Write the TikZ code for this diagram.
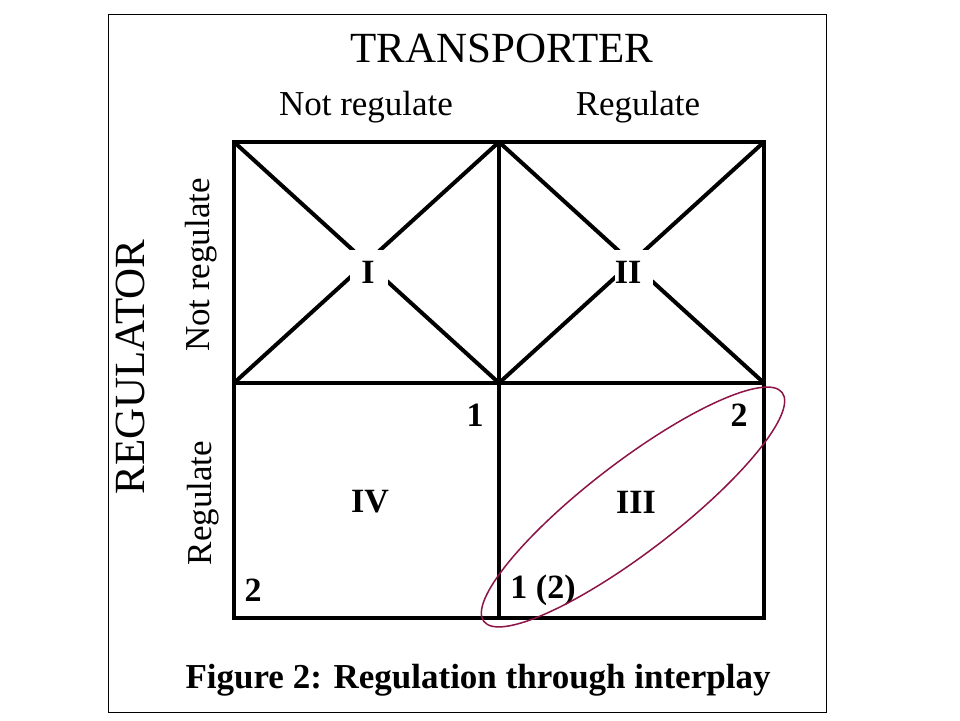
\documentclass[tikz,border=0pt]{standalone}
\usepackage{fontspec}
\setmainfont{Liberation Serif}
\definecolor{maroon}{RGB}{140,20,70}
\begin{document}
\begin{tikzpicture}[x=1pt,y=1pt,
  gridline/.style={line width=4pt},
  cell/.style={font=\fontsize{34}{34}\selectfont\bfseries, inner sep=0pt},
  head/.style={font=\fontsize{43}{43}\selectfont, inner sep=0pt},
  sub/.style={font=\fontsize{35}{35}\selectfont, inner sep=0pt}]
\useasboundingbox (0,0) rectangle (960,720);
\fill[white] (0,0) rectangle (960,720);
% frame
\draw[line width=1pt] (108,720-15) rectangle (826,720-712);
% grid coordinates
\coordinate (tl) at (234,720-142);
\coordinate (tm) at (499,720-142);
\coordinate (tr) at (764,720-142);
\coordinate (ml) at (234,720-383);
\coordinate (mm) at (499,720-383);
\coordinate (mr) at (764,720-383);
\coordinate (bl) at (234,720-618);
\coordinate (bm) at (499,720-618);
\coordinate (br) at (764,720-618);
% diagonals
\draw[gridline] (tl) -- (mm) (tm) -- (ml);
\draw[gridline] (tm) -- (mr) (tr) -- (mm);
% gaps
\fill[white] (350,720-250) rectangle (388,720-285);
\fill[white] (615,720-250) rectangle (653,720-286);
% grid
\draw[gridline, line join=miter] (tl) rectangle (br);
\draw[gridline] (tm) -- (bm) (ml) -- (mr);
% headings
\node[head] (trans) at (502,720-48) {TRANSPORTER};
\node[sub] (tnr) at (366,720-107) {Not regulate};
\node[sub] (tr2) at (638,720-107) {Regulate};
\node[head, rotate=90] (reg) at (130,720-367) {REGULATOR};
\node[sub, rotate=90] (lnr) at (201,720-265) {Not regulate};
\node[sub, rotate=90] (lr) at (203,720-503) {Regulate};
% cell labels
\node[cell] (c1) at (368,720-272) {I};
\node[cell] (c2) at (628,720-272) {II};
\node[cell] (n1) at (475,720-415) {1};
\node[cell] (n2) at (739,720-415) {2};
\node[cell] (c4) at (370,720-502) {IV};
\node[cell] (c3) at (636,720-502) {III};
\node[cell] (n3) at (253,720-590) {2};
\node[cell] (n4) at (543,720-590) {1 (2)};
% ellipse
\draw[maroon, line width=1.5pt, rotate around={37.5:(633,720-507)}] (633,720-507) ellipse [x radius=188, y radius=45];
% caption
\node[font=\fontsize{35}{35}\selectfont\bfseries, inner sep=0pt] (cap) at (478,720-680) {Figure 2: Regulation through interplay};
\end{tikzpicture}
\end{document}
